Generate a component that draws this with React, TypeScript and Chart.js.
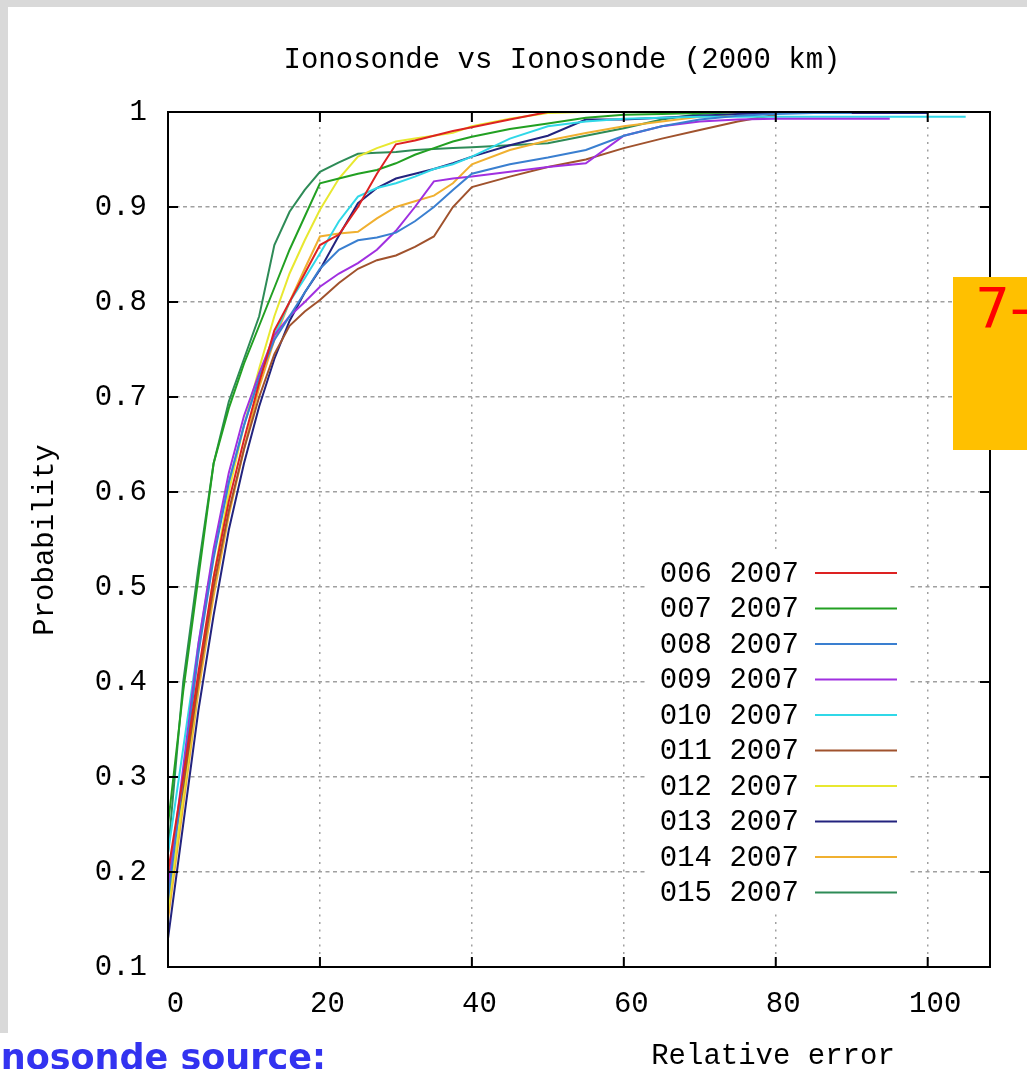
import React, { useEffect, useRef } from "react";
import { Chart, registerables } from "chart.js";

Chart.register(...registerables);

const TITLE = "Ionosonde vs Ionosonde (2000 km)";
const X_TITLE = "Relative error";
const Y_TITLE = "Probability";

const X_TICKS = [0, 20, 40, 60, 80, 100];
const Y_TICKS = [0.1, 0.2, 0.3, 0.4, 0.5, 0.6, 0.7, 0.8, 0.9, 1.0];

const X = [0, 2, 4, 6, 8, 10, 12, 14, 16, 18, 20, 22.5, 25, 27.5, 30, 32.5, 35, 37.5, 40, 45, 50, 55, 60, 65, 70, 75, 80, 85, 90, 95, 100, 105];

const LABELS = ["006 2007", "007 2007", "008 2007", "009 2007", "010 2007", "011 2007", "012 2007", "013 2007", "014 2007", "015 2007"];
const COLORS = ["#dd2222", "#22a022", "#3a7fd0", "#a030e0", "#30d8e8", "#a0522d", "#e8e830", "#23237e", "#f0b030", "#2e8b57"];

const s006 = [0.20, 0.30, 0.41, 0.51, 0.59, 0.655, 0.715, 0.77, 0.80, 0.83, 0.86, 0.871, 0.90, 0.935, 0.966, 0.97, 0.975, 0.98, 0.984, 0.992, 1.0, 1.0, 1.0, 1.0, 1.0, 1.0, 1.0, null, null, null, null, null];
const s007 = [0.25, 0.39, 0.51, 0.63, 0.688, 0.735, 0.775, 0.815, 0.855, 0.89, 0.925, 0.93, 0.935, 0.939, 0.946, 0.955, 0.962, 0.969, 0.974, 0.982, 0.988, 0.994, 0.997, 0.998, 0.999, 1.0, 1.0, 1.0, null, null, null, null];
const s008 = [0.17, 0.30, 0.43, 0.53, 0.61, 0.67, 0.72, 0.76, 0.785, 0.81, 0.835, 0.855, 0.865, 0.868, 0.873, 0.885, 0.90, 0.918, 0.935, 0.945, 0.952, 0.96, 0.975, 0.985, 0.992, 0.996, 0.998, 0.999, 0.999, null, null, null];
const s009 = [0.18, 0.31, 0.44, 0.54, 0.62, 0.68, 0.725, 0.765, 0.785, 0.80, 0.816, 0.83, 0.841, 0.855, 0.875, 0.90, 0.927, 0.93, 0.932, 0.937, 0.942, 0.946, 0.975, 0.985, 0.99, 0.992, 0.993, 0.993, 0.993, 0.993, null, null];
const s010 = [0.22, 0.33, 0.44, 0.535, 0.61, 0.67, 0.72, 0.765, 0.80, 0.825, 0.851, 0.885, 0.911, 0.92, 0.925, 0.932, 0.94, 0.945, 0.953, 0.972, 0.985, 0.99, 0.993, 0.994, 0.995, 0.995, 0.995, 0.995, 0.995, 0.995, 0.995, 0.995];
const s011 = [0.19, 0.29, 0.40, 0.50, 0.58, 0.645, 0.70, 0.745, 0.775, 0.79, 0.802, 0.82, 0.835, 0.844, 0.849, 0.858, 0.869, 0.90, 0.921, 0.932, 0.942, 0.95, 0.962, 0.972, 0.981, 0.99, 0.997, null, null, null, null, null];
const s012 = [0.16, 0.28, 0.40, 0.51, 0.60, 0.67, 0.73, 0.785, 0.83, 0.865, 0.897, 0.93, 0.953, 0.962, 0.969, 0.972, 0.975, 0.978, 0.985, 0.993, 0.999, 1.0, 1.0, 1.0, 1.0, 1.0, null, null, null, null, null, null];
const s013 = [0.13, 0.25, 0.37, 0.47, 0.56, 0.63, 0.69, 0.74, 0.78, 0.81, 0.834, 0.87, 0.904, 0.92, 0.93, 0.935, 0.94, 0.946, 0.953, 0.965, 0.975, 0.992, 0.992, 0.994, 0.996, 0.998, 0.999, 0.999, 0.999, 0.999, 0.999, null];
const s014 = [0.15, 0.27, 0.39, 0.49, 0.575, 0.645, 0.71, 0.76, 0.80, 0.835, 0.869, 0.872, 0.874, 0.888, 0.90, 0.906, 0.912, 0.925, 0.945, 0.96, 0.97, 0.978, 0.985, 0.99, 0.995, 0.998, 1.0, 1.0, null, null, null, null];
const s015 = [0.22, 0.40, 0.52, 0.63, 0.695, 0.74, 0.785, 0.86, 0.895, 0.918, 0.937, 0.947, 0.956, 0.957, 0.958, 0.96, 0.961, 0.962, 0.963, 0.965, 0.967, 0.975, 0.983, 0.992, 0.998, 1.0, 1.0, 1.0, 1.0, 1.0, 1.0, null];

const SERIES = [s006, s007, s008, s009, s010, s011, s012, s013, s014, s015];

const FONT = '29px "Liberation Mono", "DejaVu Sans Mono", monospace';

const decorPlugin = {
  id: "decor",
  afterDatasetsDraw(chart: any) {
    const { ctx, chartArea } = chart;
    const xs = chart.scales.x;
    const ys = chart.scales.y;
    ctx.save();
    // legend box (opaque)
    ctx.fillStyle = "#ffffff";
    ctx.fillRect(645, 553, 262, 360);
    ctx.font = FONT;
    ctx.textBaseline = "middle";
    ctx.textAlign = "right";
    chart.data.datasets.forEach((ds: any, i: number) => {
      const y = 573 + i * 35.5;
      ctx.fillStyle = "#000";
      ctx.fillText(ds.label, 799, y + 1);
      ctx.strokeStyle = ds.borderColor;
      ctx.lineWidth = 2;
      ctx.beginPath();
      ctx.moveTo(815, y);
      ctx.lineTo(897, y);
      ctx.stroke();
    });
    // frame
    ctx.strokeStyle = "#000";
    ctx.lineWidth = 2;
    ctx.strokeRect(chartArea.left, chartArea.top, chartArea.right - chartArea.left, chartArea.bottom - chartArea.top);
    // ticks
    ctx.lineWidth = 2;
    ctx.beginPath();
    X_TICKS.forEach((v) => {
      const px = xs.getPixelForValue(v);
      ctx.moveTo(px, chartArea.bottom);
      ctx.lineTo(px, chartArea.bottom - 10);
      ctx.moveTo(px, chartArea.top);
      ctx.lineTo(px, chartArea.top + 10);
    });
    Y_TICKS.forEach((v) => {
      const py = ys.getPixelForValue(v);
      ctx.moveTo(chartArea.left, py);
      ctx.lineTo(chartArea.left + 10, py);
      ctx.moveTo(chartArea.right, py);
      ctx.lineTo(chartArea.right - 10, py);
    });
    ctx.stroke();
    // titles
    ctx.fillStyle = "#000";
    ctx.textAlign = "center";
    ctx.textBaseline = "middle";
    ctx.fillText(TITLE, 562, 60);
    ctx.fillText(X_TITLE, 773, 1056);
    ctx.translate(45, 540);
    ctx.rotate(-Math.PI / 2);
    ctx.fillText(Y_TITLE, 0, 0);
    ctx.restore();
  },
};

export default function App() {
  const ref = useRef<HTMLCanvasElement | null>(null);
  useEffect(() => {
    if (!ref.current) return;
    const datasets = SERIES.map((s, i) => ({
      label: LABELS[i],
      data: X.map((x, j) => ({ x, y: s[j] })).filter((p) => p.y !== null),
      borderColor: COLORS[i],
      backgroundColor: COLORS[i],
      borderWidth: 2,
      pointRadius: 0,
      tension: 0,
      fill: false,
    }));
    const chart = new Chart(ref.current, {
      type: "line",
      data: { datasets },
      options: {
        animation: false,
        responsive: false,
        devicePixelRatio: 1,
        layout: { padding: { top: 112, right: 37, left: 0, bottom: 0 } },
        plugins: { legend: { display: false }, title: { display: false }, tooltip: { enabled: false } },
        scales: {
          x: {
            type: "linear",
            min: 0,
            max: 108.2,
            afterBuildTicks: (scale: any) => {
              scale.ticks = X_TICKS.map((v) => ({ value: v }));
            },
            afterFit: (scale: any) => {
              scale.height = 102;
            },
            ticks: {
              font: { family: '"Liberation Mono", "DejaVu Sans Mono", monospace', size: 29 },
              color: "#000",
              padding: 20,
              labelOffset: 7.5,
              maxRotation: 0,
              callback: (v: any) => String(v),
            },
            grid: { color: "#a0a0a0", lineWidth: 1.5, drawTicks: false },
            border: { display: false, dash: [2, 5.5] },
          },
          y: {
            type: "linear",
            min: 0.1,
            max: 1.0,
            afterBuildTicks: (scale: any) => {
              scale.ticks = Y_TICKS.map((v) => ({ value: v }));
            },
            afterFit: (scale: any) => {
              scale.width = 168;
            },
            ticks: {
              font: { family: '"Liberation Mono", "DejaVu Sans Mono", monospace', size: 29 },
              color: "#000",
              padding: 21,
              callback: (v: any) => {
                const n = Math.round(Number(v) * 10) / 10;
                return n === 1 ? "1" : n.toFixed(1);
              },
            },
            grid: { color: "#a0a0a0", lineWidth: 1.5, drawTicks: false },
            border: { display: false, dash: [4, 3.5] },
          },
        },
      },
      plugins: [decorPlugin],
    });
    return () => chart.destroy();
  }, []);

  return (
    <div style={{ position: "absolute", left: 0, top: 0, width: 1027, height: 1069, background: "#ffffff", overflow: "hidden" }}>
      <div style={{ position: "absolute", left: 0, top: 0, width: 1027, height: 7, background: "#d9d9d9" }} />
      <div style={{ position: "absolute", left: 0, top: 0, width: 8, height: 1033, background: "#d9d9d9" }} />
      <canvas ref={ref} width={1027} height={1069} style={{ position: "absolute", left: 0, top: 0, width: 1027, height: 1069 }} />
      <div style={{ position: "absolute", left: 953, top: 277, width: 80, height: 173, background: "#ffc000" }} />
      <div style={{ position: "absolute", left: 975, top: 281, font: '55px "DejaVu Sans", sans-serif', lineHeight: "55px", color: "#ff0000", whiteSpace: "nowrap" }}>7-</div>
      <div style={{ position: "absolute", right: 1027 - 326, top: 1033, font: 'bold 35px "DejaVu Sans", sans-serif', lineHeight: "48px", color: "#3333f0", whiteSpace: "nowrap" }}>Ionosonde source:</div>
    </div>
  );
}
